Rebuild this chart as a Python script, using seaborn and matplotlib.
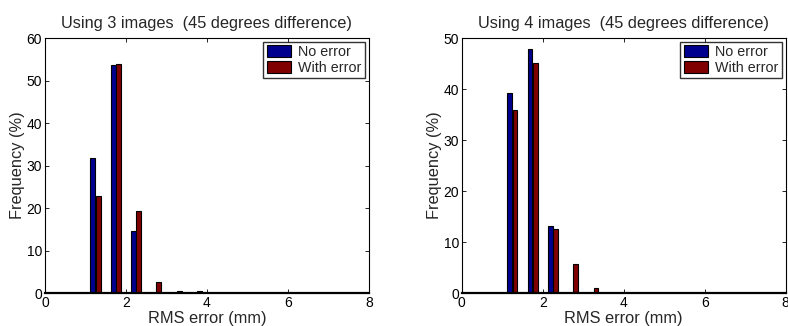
import numpy as np
import pandas as pd
import matplotlib
matplotlib.use("Agg")
import matplotlib.pyplot as plt
import seaborn as sns

# bin centres of the RMS error histogram (mm)
bin_centres = [1.25, 1.75, 2.25, 2.75, 3.25, 3.75, 4.25, 4.75, 5.25, 5.75, 6.25, 6.75, 7.25, 7.75]
series_names = ["No error", "With error"]

# frequencies (%)
three_no_error = [31.8, 53.7, 14.7, 0, 0, 0, 0, 0, 0, 0, 0, 0, 0, 0]
three_with_error = [22.9, 53.8, 19.3, 2.7, 0.6, 0.6, 0, 0, 0, 0, 0, 0, 0, 0]
four_no_error = [39.2, 47.9, 13.1, 0, 0, 0, 0, 0, 0, 0, 0, 0, 0, 0]
four_with_error = [35.9, 45.1, 12.6, 5.7, 0.9, 0, 0, 0, 0, 0, 0, 0, 0, 0]

titles = ["Using 3 images  (45 degrees difference)", "Using 4 images  (45 degrees difference)"]
y_tops = [60, 50]
x_ticks = [0, 2, 4, 6, 8]

colors = {"No error": (0, 0, 0.5625), "With error": (0.5, 0, 0)}


def make_frame(no_err, with_err):
    rows = []
    for c, a, b in zip(bin_centres, no_err, with_err):
        rows.append({"rms": c, "freq": a, "series": series_names[0]})
        rows.append({"rms": c, "freq": b, "series": series_names[1]})
    return pd.DataFrame(rows)


sns.set_theme(style="ticks")
plt.rcParams["font.family"] = ["Liberation Sans", "DejaVu Sans"]

fig = plt.figure(figsize=(7.88, 3.26), dpi=100)
ax1 = fig.add_axes([0.057, 0.101, 0.411, 0.782])
ax2 = fig.add_axes([0.586, 0.101, 0.411, 0.782])

frames = [make_frame(three_no_error, three_with_error), make_frame(four_no_error, four_with_error)]
label_x = [-0.062, -0.062]

for ax, df, title, ytop, lx in zip([ax1, ax2], frames, titles, y_tops, label_x):
    sns.barplot(data=df, x="rms", y="freq", hue="series", native_scale=True,
                palette=colors, saturation=1, width=0.52, gap=0.08, edgecolor="black",
                linewidth=0.8, ax=ax, errorbar=None)
    ax.set_xlim(0, 8)
    ax.set_ylim(0, ytop)
    ax.set_xticks(x_ticks)
    ax.set_yticks(np.arange(0, ytop + 1, 10))
    ax.tick_params(axis="both", which="both", direction="in", top=True, right=True,
                   length=3, width=0.6, labelsize=10, pad=2, colors="black")
    for side in ["top", "right", "left"]:
        ax.spines[side].set_linewidth(0.8)
        ax.spines[side].set_color("black")
    ax.spines["bottom"].set_linewidth(1.6)
    ax.spines["bottom"].set_color("black")
    ax.set_title(title, fontsize=11.8, pad=7)
    ax.set_xlabel("RMS error (mm)", fontsize=11.8)
    ax.set_ylabel("Frequency (%)", fontsize=11.8)
    ax.xaxis.set_label_coords(0.5, -0.07)
    ax.yaxis.set_label_coords(lx, 0.5)
    leg = ax.legend(loc="upper right", frameon=True, fancybox=False, fontsize=10.3,
                    borderaxespad=0.25, handlelength=1.7, handleheight=0.9,
                    handletextpad=0.5, borderpad=0.25, labelspacing=0.1)
    leg.get_frame().set_edgecolor("black")
    leg.get_frame().set_linewidth(1.0)
    leg.set_title(None)

fig.savefig("out.png", dpi=100)
